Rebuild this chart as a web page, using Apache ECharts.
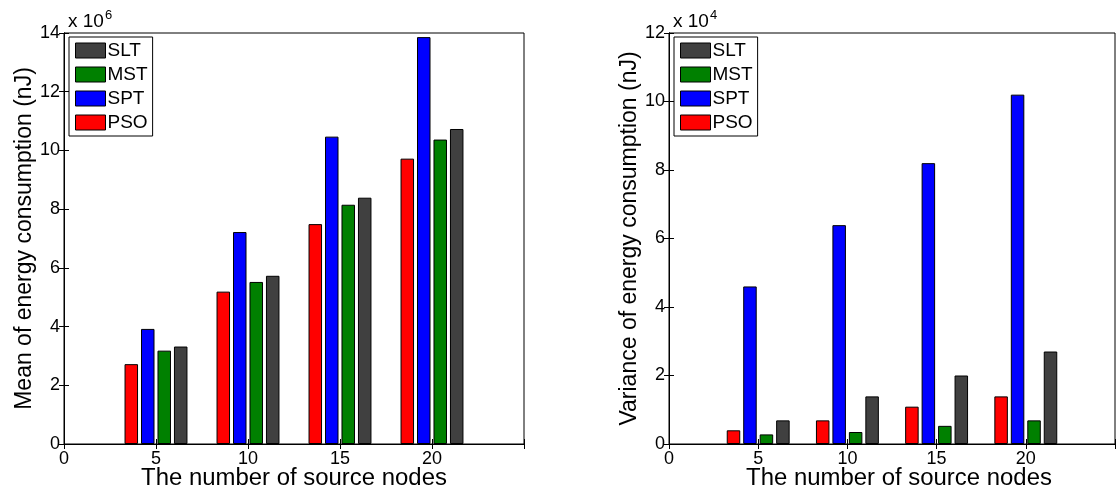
<!DOCTYPE html>
<html>
<head>
<meta charset="utf-8">
<script src="https://cdn.jsdelivr.net/npm/echarts@6/dist/echarts.min.js"></script>
<style>html,body{margin:0;padding:0;background:#fff;}#c{width:1118px;height:496px;}</style>
</head>
<body>
<div id="c"></div>
<script>
const xTicks = [0, 5, 10, 15, 20, 25];
const nodes = [5, 10, 15, 20];
const seriesNames = ['PSO', 'SPT', 'MST', 'SLT'];
const legendOrder = ['SLT', 'MST', 'SPT', 'PSO'];
const colors = {PSO: '#ff0000', SPT: '#0000ff', MST: '#008000', SLT: '#404040'};

// Mean of energy consumption (x 10^6 nJ)
const meanPSO = [2.72, 5.19, 7.49, 9.72];
const meanSPT = [3.92, 7.22, 10.47, 13.86];
const meanMST = [3.18, 5.52, 8.15, 10.37];
const meanSLT = [3.32, 5.73, 8.39, 10.73];

// Variance of energy consumption (x 10^4 nJ)
const varPSO = [0.40, 0.69, 1.09, 1.39];
const varSPT = [4.60, 6.39, 8.20, 10.20];
const varMST = [0.28, 0.35, 0.53, 0.69];
const varSLT = [0.69, 1.39, 2.00, 2.70];

const meanYMax = 14, varYMax = 12;
const xTitle = 'The number of source nodes';
const FONT = 'Liberation Sans, Arial, Helvetica, sans-serif';

const meanData = {PSO: meanPSO, SPT: meanSPT, MST: meanMST, SLT: meanSLT};
const varData = {PSO: varPSO, SPT: varSPT, MST: varMST, SLT: varSLT};

function pairs(arr) { return nodes.map((n, i) => [n, arr[i]]); }

function xAx(gridIndex, top) {
  return {
    type: 'value', gridIndex: gridIndex, position: top ? 'top' : 'bottom',
    min: xTicks[0], max: xTicks[xTicks.length - 1], interval: 5,
    axisLine: {show: true, lineStyle: {color: '#000', width: 1}},
    axisTick: {show: true, inside: true, length: 5, lineStyle: {color: '#000'}},
    axisLabel: {show: !top, color: '#000', fontSize: 18, fontFamily: FONT, margin: 6,
      formatter: v => (v === 25 ? '' : String(v))},
    splitLine: {show: false}
  };
}
function yAx(gridIndex, right, max, name) {
  return {
    type: 'value', gridIndex: gridIndex, position: right ? 'right' : 'left',
    min: 0, max: max, interval: 2,
    name: right ? '' : name, nameLocation: 'middle', nameGap: 24,
    nameTextStyle: {color: '#000', fontSize: 23, fontFamily: FONT},
    axisLine: {show: true, lineStyle: {color: '#000', width: 1}},
    axisTick: {show: true, inside: true, length: 5, lineStyle: {color: '#000'}},
    axisLabel: {show: !right, color: '#000', fontSize: 18, fontFamily: FONT, margin: 4},
    splitLine: {show: false}
  };
}

const series = [];
seriesNames.forEach(nm => {
  series.push({
    name: nm, type: 'bar', xAxisIndex: 0, yAxisIndex: 0,
    data: pairs(meanData[nm]), barWidth: 13.5, barGap: '22%',
    itemStyle: {color: colors[nm], borderColor: '#000', borderWidth: 1}
  });
});
seriesNames.forEach(nm => {
  series.push({
    name: nm, type: 'bar', xAxisIndex: 2, yAxisIndex: 2,
    data: pairs(varData[nm]), barWidth: 13.5, barGap: '22%',
    itemStyle: {color: colors[nm], borderColor: '#000', borderWidth: 1}
  });
});

function legend(left) {
  return {
    data: legendOrder, orient: 'vertical', left: left, top: 37,
    icon: 'rect', itemWidth: 30, itemHeight: 15, itemGap: 5,
    padding: [4, 5, 4, 6], borderColor: '#000', borderWidth: 1, backgroundColor: '#fff',
    textStyle: {color: '#000', fontSize: 19, fontFamily: FONT, padding: [0, 0, 0, -3]},
    itemStyle: {borderColor: '#000', borderWidth: 1},
    selectedMode: false
  };
}

const option = {
  animation: false,
  backgroundColor: '#fff',
  grid: [
    {left: 64, top: 33, width: 460, height: 411, show: true, borderColor: '#000', borderWidth: 1, backgroundColor: 'transparent'},
    {left: 669, top: 33, width: 460, height: 411, show: true, borderColor: '#000', borderWidth: 1, backgroundColor: 'transparent'}
  ],
  xAxis: [xAx(0, false), xAx(0, true), xAx(1, false), xAx(1, true)],
  yAxis: [
    yAx(0, false, meanYMax, 'Mean of energy consumption (nJ)'),
    yAx(0, true, meanYMax, ''),
    yAx(1, false, varYMax, 'Variance of energy consumption (nJ)'),
    yAx(1, true, varYMax, '')
  ],
  legend: [legend(69), legend(674)],
  series: series,
  graphic: [
    {type: 'text', x: 294, y: 467, style: {text: xTitle, fill: '#000', font: '23px ' + FONT, align: 'center', verticalAlign: 'top'}, scaleX: 1.04, originX: 0},
    {type: 'text', x: 899, y: 467, style: {text: xTitle, fill: '#000', font: '23px ' + FONT, align: 'center', verticalAlign: 'top'}, scaleX: 1.04, originX: 0},
    {type: 'text', left: 68, top: 9, style: {text: 'x 10{s|6}', fill: '#000', font: '19px ' + FONT,
      rich: {s: {fontSize: 13, fontFamily: FONT, fill: '#000', verticalAlign: 'top', padding: [0, 0, 12, 1]}}}},
    {type: 'text', left: 673, top: 9, style: {text: 'x 10{s|4}', fill: '#000', font: '19px ' + FONT,
      rich: {s: {fontSize: 13, fontFamily: FONT, fill: '#000', verticalAlign: 'top', padding: [0, 0, 12, 1]}}}}
  ]
};

const chart = echarts.init(document.getElementById('c'), null, {renderer: 'canvas'});
chart.setOption(option);
</script>
</body>
</html>
